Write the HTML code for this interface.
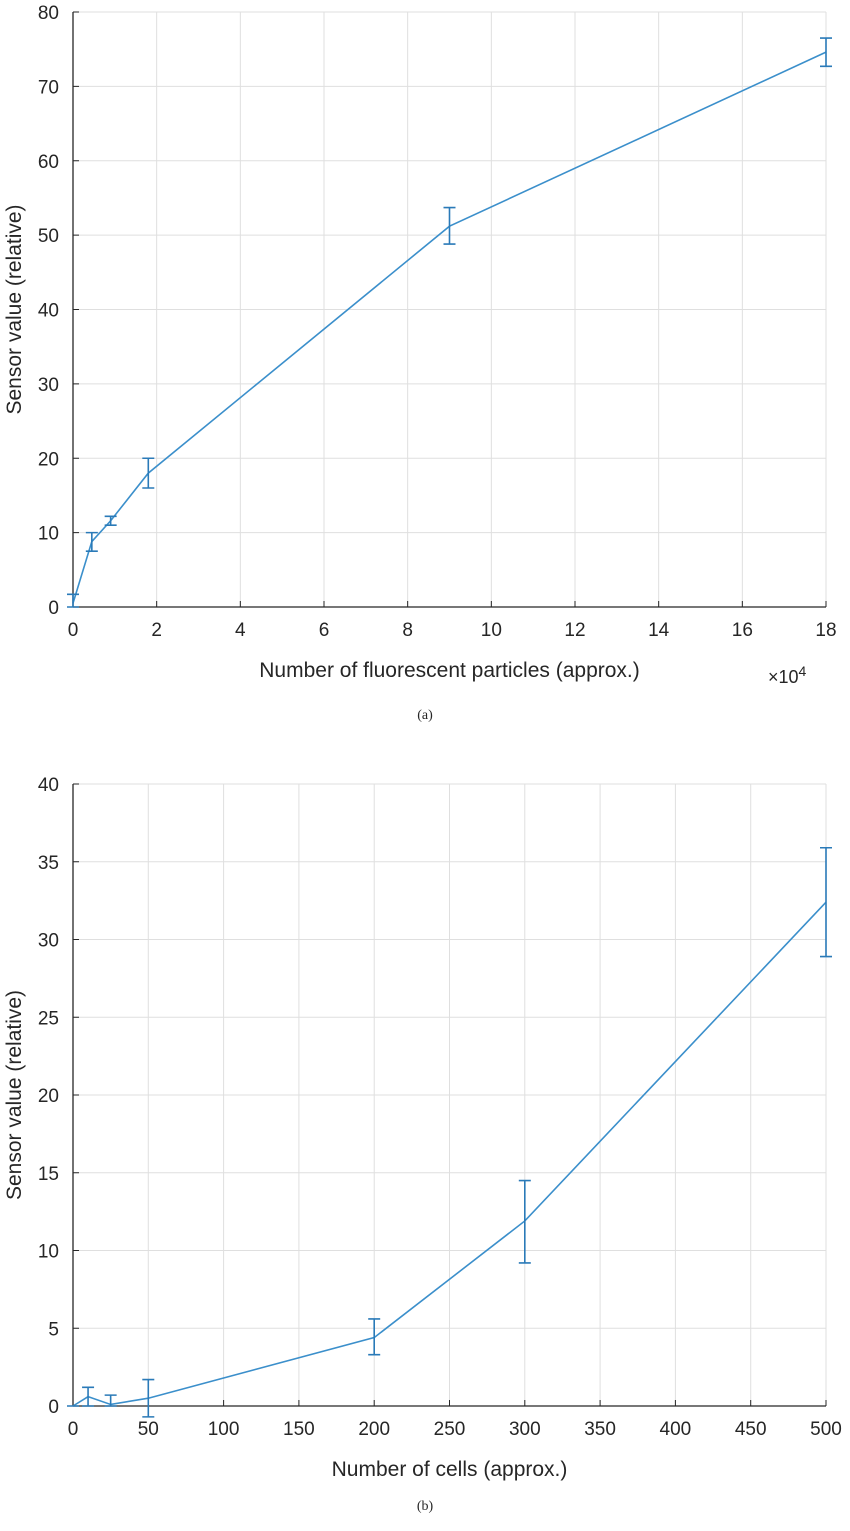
<!DOCTYPE html>
<html><head><meta charset="utf-8"><style>
body{margin:0;background:#fff;}
svg text{font-family:"Liberation Sans",sans-serif;fill:#262626;}
</style></head><body>
<svg id="s" width="850" height="1526" xmlns="http://www.w3.org/2000/svg"></svg>
<script>
const aX=[0,0.45,0.9,1.8,9,18];
const aY=[0.5,8.8,11.6,18,51.2,74.6];
const aLo=[0,7.5,11,16,48.8,72.7];
const aHi=[1.7,10,12.2,20,53.7,76.5];
const aXTicks=[0,2,4,6,8,10,12,14,16,18];
const aYTicks=[0,10,20,30,40,50,60,70,80];
const bX=[0,10,25,50,200,300,500];
const bY=[0,0.6,0.1,0.5,4.4,11.9,32.4];
const bLo=[0,0,0,-0.7,3.3,9.2,28.9];
const bHi=[0,1.2,0.7,1.7,5.6,14.5,35.9];
const bXTicks=[0,50,100,150,200,250,300,350,400,450,500];
const bYTicks=[0,5,10,15,20,25,30,35,40];
const NS="http://www.w3.org/2000/svg";
const svg=document.getElementById('s');
function mk(t,at,p){const e=document.createElementNS(NS,t);for(const k in at)e.setAttribute(k,at[k]);(p||svg).appendChild(e);return e;}
function chart(name,L,T,R,B,xmax,ymax,xs,ys,lo,hi,xt,yt,xlab,cap,capY){
  const g=mk('g',{});
  
  
  const sx=v=>L+(R-L)*v/xmax, sy=v=>B-(B-T)*v/ymax;
  mk('rect',{x:L,y:T,width:R-L,height:B-T,fill:'#fff'},g);
  xt.forEach(v=>{const l=mk('line',{x1:sx(v),x2:sx(v),y1:T,y2:B,stroke:'#dfdfdf','stroke-width':1},g);});
  yt.forEach(v=>{const l=mk('line',{x1:L,x2:R,y1:sy(v),y2:sy(v),stroke:'#dfdfdf','stroke-width':1},g);});
  mk('line',{x1:L,x2:R,y1:T,y2:T,stroke:'#dfdfdf'},g);
  mk('line',{x1:R,x2:R,y1:T,y2:B,stroke:'#dfdfdf'},g);
  mk('line',{x1:L,x2:R,y1:B,y2:B,stroke:'#262626','stroke-width':1.3},g);
  mk('line',{x1:L,x2:L,y1:T,y2:B,stroke:'#262626','stroke-width':1.3},g);
  xt.forEach(v=>{mk('line',{x1:sx(v),x2:sx(v),y1:B,y2:B-6,stroke:'#262626'},g);
    const t=mk('text',{x:sx(v),y:B+29,'text-anchor':'middle','font-size':19},g);t.textContent=v;});
  yt.forEach(v=>{mk('line',{x1:L,x2:L+6,y1:sy(v),y2:sy(v),stroke:'#262626'},g);
    const t=mk('text',{x:L-14,y:sy(v)+7,'text-anchor':'end','font-size':19},g);t.textContent=v;});
  const pl=mk('polyline',{points:xs.map((x,i)=>sx(x)+','+sy(ys[i])).join(' '),fill:'none',stroke:'#3b8fcb','stroke-width':1.6},g);
  
  xs.forEach((x,i)=>{const e=mk('path',{d:`M${sx(x)-6},${sy(hi[i])}h12M${sx(x)},${sy(hi[i])}V${sy(lo[i])}M${sx(x)-6},${sy(lo[i])}h12`,stroke:'#2a7ab8','stroke-width':1.6,fill:'none'},g);
    });
  const xl=mk('text',{x:(L+R)/2,y:B+70,'text-anchor':'middle','font-size':21},g);xl.textContent=xlab;
  const yl=mk('text',{x:0,y:0,'text-anchor':'middle','font-size':21,transform:`translate(21,${(T+B)/2}) rotate(-90)`},g);yl.textContent='Sensor value (relative)';
  const c=mk('text',{x:425,y:capY,'text-anchor':'middle','font-size':14,style:'font-family:"Liberation Serif",serif'},g);c.textContent=cap;
  return g;
}
chart('chart-a',73,12,826,607,18,80,aX,aY,aLo,aHi,aXTicks,aYTicks,'Number of fluorescent particles (approx.)','(a)',719);
const ex=mk('text',{x:768,y:683,'font-size':18});ex.innerHTML='×10<tspan dy="-7" font-size="14">4</tspan>';

chart('chart-b',73,784,826,1406,500,40,bX,bY,bLo,bHi,bXTicks,bYTicks,'Number of cells (approx.)','(b)',1510);
</script>
</body></html>
